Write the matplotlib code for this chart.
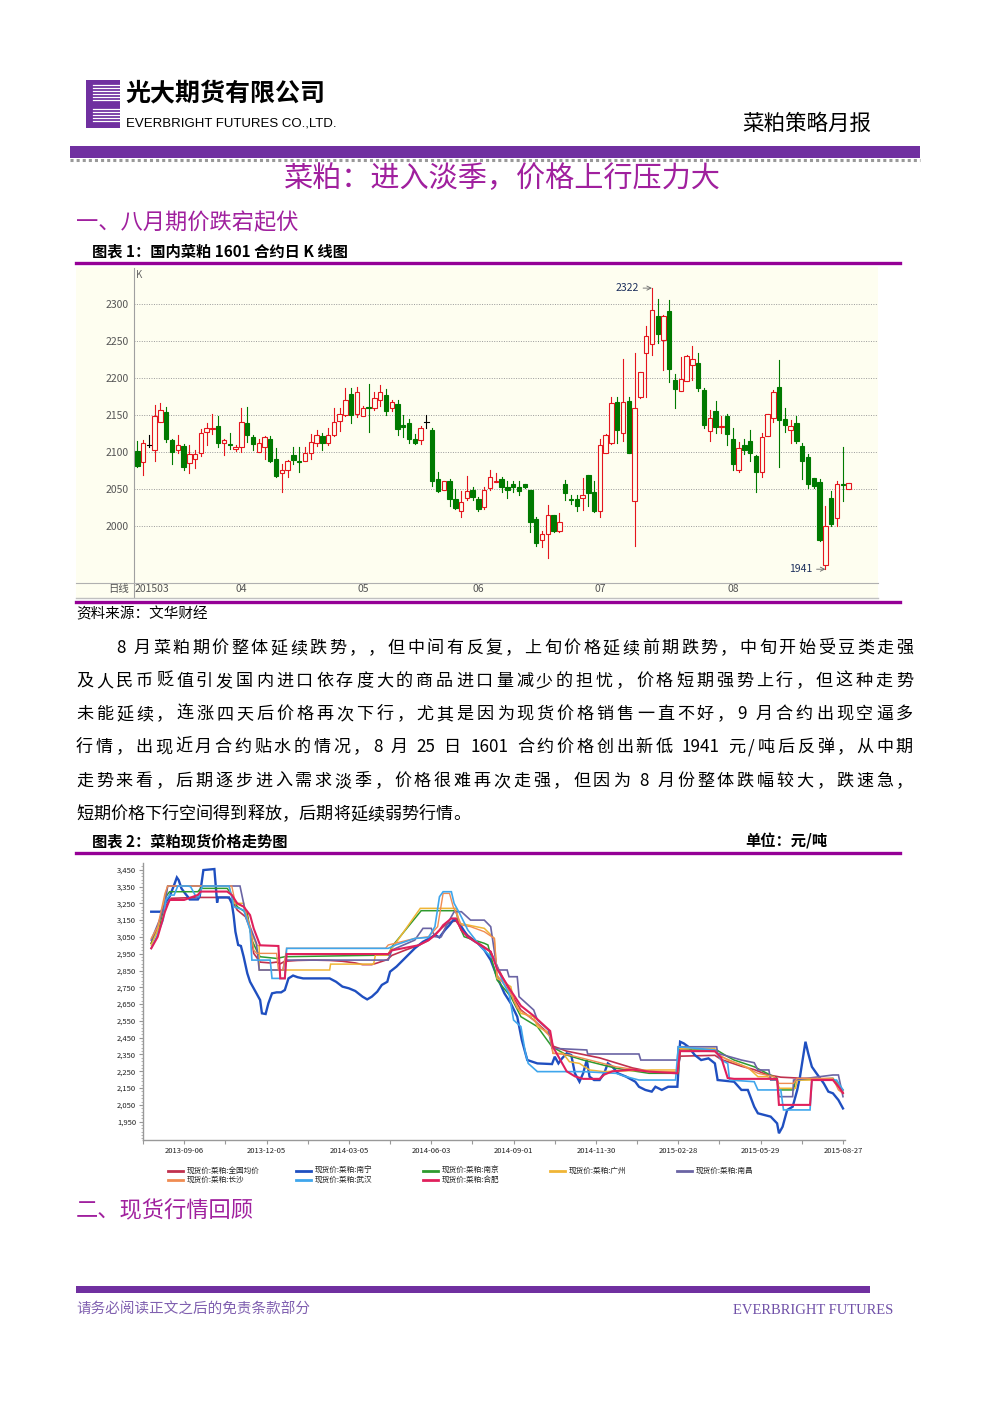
import re
import numpy as np
import pandas as pd
import matplotlib
matplotlib.use('Agg')
import matplotlib.pyplot as plt
import matplotlib.transforms as mtransforms
from matplotlib.lines import Line2D
from matplotlib.patches import Rectangle

plt.rcParams['font.family'] = ['Noto Sans CJK SC', 'DejaVu Sans']

# ---------------- data: chart 1, daily K line of RM1601 (Mar-Aug 2015) ----------------
k_open = [2101, 2086, 2109, 2103, 2141, 2154, 2116, 2103, 2108, 2085, 2090, 2098, 2127, 2131, 2135, 2112,
          2111, 2104, 2107, 2139, 2120, 2100, 2107, 2118, 2090, 2071, 2076, 2096, 2088, 2087, 2099, 2112,
          2122, 2112, 2123, 2142, 2150, 2178, 2152, 2149, 2161, 2160, 2171, 2177, 2159, 2165, 2136, 2139,
          2117, 2116, 2140, 2130, 2063, 2048, 2061, 2036, 2020, 2037, 2048, 2036, 2025, 2051, 2059, 2063,
          2053, 2057, 2052, 2056, 2048, 2009, 1981, 1989, 2014, 1993, 2056, 2036, 2036, 2038, 2069, 2046,
          2020, 2099, 2112, 2167, 2125, 2169, 2033, 2175, 2234, 2246, 2284, 2252, 2291, 2197, 2183, 2196,
          2218, 2221, 2184, 2128, 2155, 2134, 2148, 2118, 2075, 2109, 2115, 2094, 2073, 2121, 2146, 2188,
          2144, 2130, 2139, 2108, 2093, 2064, 2059, 1947, 2038, 2010, 2057, 2050]
k_high = [2115, 2116, 2123, 2164, 2166, 2161, 2118, 2123, 2111, 2109, 2103, 2131, 2139, 2152, 2148, 2118,
          2125, 2110, 2160, 2161, 2123, 2118, 2121, 2122, 2105, 2084, 2089, 2107, 2106, 2106, 2124, 2130,
          2125, 2132, 2159, 2160, 2186, 2186, 2188, 2162, 2192, 2181, 2190, 2185, 2170, 2171, 2150, 2144,
          2124, 2135, 2150, 2132, 2073, 2060, 2063, 2050, 2047, 2067, 2052, 2039, 2053, 2075, 2072, 2066,
          2060, 2061, 2060, 2057, 2049, 2012, 1993, 2028, 2015, 2017, 2062, 2042, 2042, 2064, 2069, 2060,
          2118, 2124, 2175, 2174, 2226, 2174, 2234, 2208, 2271, 2322, 2307, 2286, 2306, 2206, 2228, 2232,
          2244, 2234, 2186, 2157, 2169, 2148, 2152, 2132, 2114, 2117, 2129, 2096, 2125, 2152, 2184, 2225,
          2159, 2143, 2149, 2112, 2097, 2064, 2063, 2027, 2047, 2061, 2106, 2058]
k_low = [2080, 2068, 2106, 2087, 2141, 2114, 2083, 2099, 2075, 2071, 2078, 2094, 2109, 2124, 2107, 2096,
         2104, 2101, 2100, 2113, 2103, 2100, 2090, 2086, 2066, 2045, 2066, 2083, 2073, 2087, 2090, 2108,
         2103, 2109, 2122, 2128, 2149, 2139, 2147, 2149, 2127, 2157, 2162, 2150, 2156, 2123, 2120, 2112,
         2111, 2111, 2133, 2054, 2045, 2048, 2027, 2023, 2012, 2035, 2035, 2020, 2023, 2048, 2059, 2045,
         2038, 2046, 2041, 2051, 1992, 1972, 1971, 1956, 1992, 1992, 2035, 2030, 2020, 2021, 2026, 2018,
         2012, 2099, 2111, 2112, 2115, 2098, 1972, 2173, 2175, 2231, 2247, 2211, 2195, 2160, 2182, 2196,
         2197, 2182, 2133, 2115, 2125, 2125, 2109, 2076, 2073, 2097, 2087, 2046, 2066, 2121, 2141, 2080,
         2127, 2112, 2112, 2063, 2051, 2051, 1979, 1941, 1999, 1999, 2034, 2050]
k_close = [2081, 2112, 2109, 2148, 2157, 2118, 2100, 2110, 2079, 2097, 2097, 2125, 2133, 2133, 2112, 2116,
           2110, 2107, 2140, 2123, 2111, 2112, 2120, 2087, 2067, 2076, 2087, 2089, 2086, 2099, 2114, 2123,
           2112, 2123, 2140, 2152, 2170, 2150, 2181, 2160, 2159, 2173, 2181, 2156, 2168, 2131, 2134, 2117,
           2112, 2133, 2140, 2060, 2047, 2060, 2036, 2024, 2032, 2047, 2039, 2023, 2048, 2066, 2061, 2052,
           2049, 2052, 2047, 2052, 2005, 1977, 1989, 2014, 1993, 2005, 2044, 2035, 2026, 2042, 2044, 2020,
           2110, 2123, 2166, 2130, 2168, 2098, 2160, 2208, 2257, 2292, 2260, 2284, 2213, 2185, 2199, 2230,
           2226, 2187, 2136, 2146, 2134, 2135, 2124, 2084, 2105, 2103, 2099, 2073, 2120, 2151, 2181, 2143,
           2136, 2135, 2115, 2087, 2057, 2054, 1980, 2000, 2002, 2057, 2055, 2058]
k_yticks = [2000, 2050, 2100, 2150, 2200, 2250, 2300]
month_labels = ['04', '05', '06', '07', '08']
month_first_idx = [18, 39, 59, 80, 103]
k_max_idx, k_min_idx = 89, 119

# ---------------- data: chart 2, spot prices (day offset from 2013-09-06, yuan/t) ----------------
base_date = '2013-09-06'
quanguo = [(-36, 3012), (-29, 3111), (-21, 3230), (-14, 3280), (15, 3285), (47, 3285), (52, 3270), (58, 3210),
           (67, 3170), (72, 3101), (76, 2952), (83, 2900), (94, 2895), (101, 2900), (105, 2890), (110, 2905),
           (124, 2910), (141, 2912), (159, 2910), (173, 2905), (187, 2895), (195, 2885), (205, 2885), (211, 2895),
           (222, 2915), (227, 2940), (241, 2970), (256, 3000), (267, 3030), (277, 3080), (285, 3120), (292, 3140),
           (297, 3145), (303, 3100), (310, 3060), (317, 3030), (328, 2990), (335, 2962), (344, 2853), (357, 2714),
           (368, 2615), (382, 2555), (400, 2466), (403, 2400), (418, 2370), (436, 2350), (454, 2330), (472, 2300),
           (490, 2270), (508, 2250), (539, 2245), (542, 2340), (580, 2345), (587, 2320), (609, 2280), (623, 2260),
           (637, 2230), (652, 2215), (688, 2205), (709, 2200), (720, 2125)]
nanning = [(-36, 3200), (-25, 3200), (-21, 3250), (-16, 3289), (-11, 3359), (-8, 3404), (-6, 3388), (-3, 3339),
           (1, 3309), (4, 3289), (6, 3273), (15, 3273), (17, 3293), (21, 3448), (33, 3454), (34, 3388), (36, 3254),
           (37, 3285), (49, 3285), (52, 3250), (54, 3180), (56, 3081), (59, 3002), (62, 2996), (65, 2932),
           (69, 2833), (72, 2783), (76, 2744), (79, 2714), (83, 2674), (85, 2595), (89, 2591), (92, 2654),
           (96, 2714), (101, 2720), (106, 2720), (110, 2734), (114, 2803), (119, 2820), (124, 2810), (130, 2803),
           (159, 2803), (166, 2783), (173, 2754), (180, 2744), (187, 2728), (195, 2694), (200, 2678), (205, 2694),
           (211, 2724), (216, 2764), (222, 2783), (225, 2843), (232, 2873), (241, 2922), (252, 2982), (261, 3021),
           (268, 3041), (274, 3061), (279, 3047), (285, 3091), (290, 3121), (294, 3150), (299, 3150), (303, 3111),
           (310, 3051), (321, 3012), (328, 2972), (335, 2912), (342, 2813), (350, 2714), (357, 2654), (364, 2575),
           (369, 2436), (375, 2317), (386, 2297), (402, 2293), (405, 2337), (409, 2297), (413, 2327), (418, 2357),
           (423, 2347), (427, 2238), (432, 2188), (436, 2238), (440, 2317), (443, 2218), (448, 2198), (454, 2198),
           (459, 2238), (463, 2297), (468, 2277), (474, 2238), (483, 2218), (493, 2188), (497, 2158), (504, 2139),
           (511, 2129), (515, 2158), (522, 2139), (529, 2158), (539, 2158), (542, 2426), (546, 2416), (551, 2396),
           (558, 2347), (565, 2317), (573, 2327), (580, 2297), (583, 2198), (601, 2188), (609, 2139), (616, 2139),
           (623, 2039), (627, 2000), (641, 1980), (648, 1940), (650, 1881), (654, 1920), (659, 2020), (665, 2039),
           (670, 2139), (673, 2218), (679, 2426), (682, 2357), (686, 2277), (691, 2238), (699, 2178), (704, 2129),
           (709, 2119), (715, 2079), (720, 2029)]
nanjing = [(-36, 3012), (-27, 3111), (-20, 3289), (-16, 3319), (15, 3319), (18, 3339), (47, 3339), (51, 3309),
           (58, 3230), (69, 3190), (74, 3031), (79, 2972), (83, 2932), (101, 2922), (110, 2932), (223, 2942),
           (227, 2992), (259, 3206), (297, 3206), (301, 3111), (306, 3051), (317, 3031), (328, 3012), (332, 3002),
           (342, 2793), (357, 2694), (368, 2575), (386, 2516), (402, 2396), (418, 2347), (436, 2317), (472, 2268),
           (508, 2238), (540, 2238), (542, 2377), (582, 2377), (594, 2337), (601, 2317), (623, 2277), (637, 2238),
           (648, 2208), (650, 2139), (666, 2139), (668, 2198), (709, 2208), (720, 2139)]
guangzhou = [(-36, 3002), (-29, 3091), (-20, 3309), (-18, 3353), (49, 3353), (54, 3250), (65, 3250), (72, 3091),
             (79, 3002), (82, 2996), (82, 2853), (159, 2853), (160, 2888), (207, 2888), (209, 2942), (222, 2942),
             (258, 3220), (297, 3220), (301, 3131), (328, 3101), (339, 3041), (342, 2803), (357, 2754), (360, 2674),
             (368, 2595), (382, 2575), (386, 2516), (400, 2476), (403, 2357), (414, 2357), (421, 2307), (432, 2297),
             (443, 2258), (458, 2248), (511, 2258), (539, 2258), (540, 2386), (580, 2386), (582, 2357), (594, 2317),
             (616, 2273), (627, 2218), (637, 2218), (648, 2198), (650, 2149), (668, 2149), (670, 2198), (709, 2198),
             (720, 2139)]
nanchang = [(-36, 3031), (-27, 3150), (-21, 3250), (-18, 3353), (61, 3353), (65, 3250), (67, 3190), (72, 3111),
            (79, 3012), (82, 2853), (108, 2853), (110, 2912), (223, 2912), (227, 2972), (252, 3031), (261, 3101),
            (270, 3101), (274, 3051), (281, 3051), (285, 3101), (295, 3200), (303, 3200), (313, 3150), (328, 3150),
            (335, 3111), (342, 2853), (353, 2853), (355, 2813), (364, 2813), (366, 2694), (382, 2615), (386, 2555),
            (398, 2496), (402, 2387), (440, 2377), (441, 2353), (497, 2353), (499, 2317), (539, 2317), (540, 2396),
            (582, 2396), (583, 2357), (609, 2317), (623, 2301), (627, 2258), (639, 2258), (641, 2198), (648, 2198),
            (650, 2099), (665, 2099), (666, 2198), (709, 2228), (715, 2228), (720, 2099)]
changsha = [(-36, 3041), (-29, 3111), (-21, 3309), (-18, 3353), (52, 3353), (56, 3250), (65, 3230), (72, 3111),
            (76, 2972), (79, 2952), (101, 2952), (103, 2853), (108, 2853), (112, 2982), (220, 2982), (223, 3002),
            (252, 3041), (267, 3051), (277, 3111), (283, 3309), (290, 3309), (294, 3230), (303, 3121), (313, 3111),
            (328, 3081), (339, 3041), (342, 2823), (357, 2714), (364, 2625), (382, 2555), (400, 2456), (403, 2357),
            (421, 2347), (436, 2327), (472, 2277), (508, 2248), (540, 2248), (542, 2377), (580, 2367), (587, 2337),
            (609, 2287), (627, 2238), (645, 2218), (650, 2178), (666, 2178), (670, 2208), (709, 2208), (715, 2139),
            (720, 2119)]
wuhan = [(-36, 2982), (-30, 3051), (-23, 3150), (-20, 3269), (-16, 3299), (-11, 3299), (-7, 3353), (4, 3353),
         (7, 3349), (13, 3289), (16, 3289), (20, 3353), (49, 3353), (52, 3289), (54, 3230), (65, 3210), (72, 3091),
         (74, 2912), (94, 2912), (96, 2803), (110, 2803), (112, 2982), (223, 2982), (231, 3002), (252, 3041),
         (267, 3047), (274, 3111), (279, 3289), (283, 3319), (292, 3319), (295, 3250), (301, 3190), (310, 3091),
         (324, 2992), (339, 2912), (349, 2773), (355, 2714), (360, 2555), (368, 2516), (373, 2357), (376, 2297),
         (386, 2248), (436, 2248), (472, 2238), (483, 2218), (497, 2198), (537, 2198), (540, 2396), (580, 2377),
         (587, 2317), (594, 2297), (596, 2198), (623, 2188), (627, 2139), (652, 2139), (655, 2020), (684, 2020),
         (686, 2198), (713, 2198), (720, 2139)]
hefei = [(-36, 2982), (-29, 3050), (-21, 3200), (-16, 3270), (0, 3270), (15, 3300), (18, 3320), (47, 3320),
         (52, 3300), (58, 3250), (65, 3230), (72, 3180), (76, 3100), (83, 3000), (103, 2996), (105, 2803),
         (110, 2803), (112, 2948), (223, 2948), (227, 2970), (256, 3000), (267, 3030), (274, 3060), (279, 3090),
         (283, 3120), (292, 3160), (297, 3160), (303, 3090), (310, 3050), (324, 3000), (335, 2962), (342, 2860),
         (357, 2730), (368, 2640), (382, 2580), (400, 2490), (403, 2396), (418, 2250), (427, 2220), (436, 2205),
         (454, 2205), (459, 2230), (468, 2250), (490, 2260), (508, 2248), (539, 2238), (542, 2370), (580, 2370),
         (587, 2330), (594, 2210), (601, 2205), (648, 2205), (650, 2050), (684, 2050), (686, 2198), (709, 2198),
         (715, 2160), (720, 2120)]
spot_names = ['现货价:菜粕:全国均价', '现货价:菜粕:南宁', '现货价:菜粕:南京', '现货价:菜粕:广州',
              '现货价:菜粕:南昌', '现货价:菜粕:长沙', '现货价:菜粕:武汉', '现货价:菜粕:合肥']
spot_series = [quanguo, nanning, nanjing, guangzhou, nanchang, changsha, wuhan, hefei]
spot_colors = ['#C0304E', '#1F4FC0', '#2E9A2E', '#F0B536', '#6A64A4', '#F08C52', '#3FA6EC', '#E0205C']
spot_widths = [1.2, 1.7, 1.1, 1.1, 1.2, 1.0, 1.2, 1.5]
spot_yticks = list(range(1950, 3451, 100))

body_lines = [
    '8 月菜粕期价整体延续跌势，，但中间有反复，上旬价格延续前期跌势，中旬开始受豆类走强',
    '及人民币贬值引发国内进口依存度大的商品进口量减少的担忧，价格短期强势上行，但这种走势',
    '未能延续，连涨四天后价格再次下行，尤其是因为现货价格销售一直不好，9 月合约出现空逼多',
    '行情，出现近月合约贴水的情况，8 月 25 日 1601 合约价格创出新低 1941 元/吨后反弹，从中期',
    '走势来看，后期逐步进入需求淡季，价格很难再次走强，但因为 8 月份整体跌幅较大，跌速急，',
    '短期价格下行空间得到释放，后期将延续弱势行情。',
]

# ---------------- page ----------------
W, H = 992, 1403
fig = plt.figure(figsize=(W / 100, H / 100), dpi=100)
PURPLE = '#7030A0'
MAGENTA = '#A0209E'
RULE = '#950096'


def fx(x):
    return x / W


def fy(y):
    return 1 - y / H


def ftext(x, y, s, **kw):
    kw.setdefault('va', 'center')
    return fig.text(fx(x), fy(y), s, **kw)


def hline(x0, x1, y, **kw):
    fig.add_artist(Line2D([fx(x0), fx(x1)], [fy(y), fy(y)], **kw))


def rect(x0, y0, x1, y1, **kw):
    fig.add_artist(Rectangle((fx(x0), fy(y1)), (x1 - x0) / W, (y1 - y0) / H,
                             transform=fig.transFigure, **kw))


def box(x0, y0, x1, y1):
    return [fx(x0), fy(y1), (x1 - x0) / W, (y1 - y0) / H]


renderer = fig.canvas.get_renderer()


def put_line(text, x0, x1, y, size, justify=True):
    toks = re.findall(r'[0-9A-Za-z/]+| |.', text)
    arts, widths = [], []
    for t in toks:
        if t == ' ':
            arts.append(None)
            widths.append(size * 0.28)
            continue
        a = fig.text(0, fy(y), t, fontsize=size, va='center', ha='left')
        arts.append(a)
        widths.append(a.get_window_extent(renderer=renderer).width)
    gap = (x1 - x0 - sum(widths)) / (len(toks) - 1) if justify else 0
    x = x0
    for a, w in zip(arts, widths):
        if a is not None:
            a.set_x(fx(x))
        x += w + gap


# header logo
rect(86, 80, 120, 128, facecolor=PURPLE, edgecolor='none')
for yy in range(85, 124, 3):
    if 101 <= yy <= 106:
        continue
    hline(93, 120, yy, color='white', lw=0.9)
ftext(125, 94, '光大期货有限公司', fontsize=18, fontweight='bold')
ftext(126, 123, 'EVERBRIGHT FUTURES CO.,LTD.', fontsize=9.5, family='Liberation Sans')
ftext(742, 124, '菜粕策略月报', fontsize=15.5)
rect(70, 146, 920, 158, facecolor=PURPLE, edgecolor='none')
hline(70, 920, 160, color='#999999', lw=2.2, linestyle=(0, (1, 1)))
ftext(502, 179, '菜粕：进入淡季，价格上行压力大', fontsize=21, color=MAGENTA, ha='center')
ftext(76, 223, '一、八月期价跌宕起伏', fontsize=16, color=MAGENTA)
ftext(92, 251, '图表 1：国内菜粕 1601 合约日 K 线图', fontsize=11, fontweight='bold')
hline(76, 900, 263, color=RULE, lw=2.4)

# ---------------- chart 1 ----------------
rect(76, 267, 878, 598, facecolor='#FEFEF0', edgecolor='none', zorder=-10)
fig.add_artist(Line2D([fx(134.3), fx(134.3)], [fy(268), fy(597)], color='#a0a0a0', lw=0.8, zorder=-5))
hline(76, 878, 582.7, color='#b0b0b0', lw=0.8, zorder=-5)
hline(76, 878, 597.7, color='#c0c0c0', lw=1.0, zorder=-5)
ax1 = fig.add_axes(box(134.3, 267, 878, 582.7))
ax1.set_facecolor('none')
ax1.set_xlim(-0.52, 128.1)
ax1.set_ylim(1922.7, 2350.6)
for s in ax1.spines.values():
    s.set_visible(False)
ax1.set_xticks([])
ax1.set_yticks(k_yticks)
ax1.tick_params(axis='y', length=0, pad=4, labelsize=7.5, labelcolor='#555555')
ax1.grid(axis='y', color='#9a9a9a', lw=0.7, linestyle=(0, (1, 1.5)))
ax1.set_axisbelow(True)
for i, (o, h, l, c) in enumerate(zip(k_open, k_high, k_low, k_close)):
    if c > o:
        col, face = '#E5161E', '#FEFEF0'
    elif c < o:
        col, face = '#007A00', '#007A00'
    else:
        col, face = '#000000', None
    ax1.plot([i, i], [l, h], color=col, lw=0.8, zorder=2)
    if face is None:
        ax1.plot([i - 0.4, i + 0.4], [o, o], color=col, lw=0.8, zorder=3)
    else:
        ax1.add_patch(Rectangle((i - 0.38, min(o, c)), 0.76, max(abs(c - o), 0.8),
                                facecolor=face, edgecolor=col, lw=0.8, zorder=3))
for idx in (k_max_idx, k_min_idx):
    val = k_high[idx] if idx == k_max_idx else k_low[idx]
    ax1.annotate(str(val), xy=(idx, val), xytext=(-13, 0), textcoords='offset pixels',
                 ha='right', va='center', fontsize=7.5, color='#1C2F5C',
                 arrowprops=dict(arrowstyle='->', color='#666666', lw=0.6, shrinkA=1, shrinkB=0))
lab_tr = mtransforms.blended_transform_factory(ax1.transData, fig.transFigure)
ax1.text(-0.5, fy(589.5), '201503', transform=lab_tr, ha='left', va='center', fontsize=7.5, color='#555555')
for lab, idx in zip(month_labels, month_first_idx):
    ax1.text(idx, fy(589.5), lab, transform=lab_tr, ha='center', va='center', fontsize=7.5, color='#555555')
ftext(129, 589.5, '日线', ha='right', fontsize=7.5, color='#555555')
ftext(136, 275, 'K', fontsize=7, color='#666666')
hline(76, 900, 602, color=RULE, lw=2.4)
ftext(76, 614, '资料来源：文华财经', fontsize=10.5)

# ---------------- body text ----------------
line_y = [648, 681, 714, 747, 781, 814]
for n, (txt, yy) in enumerate(zip(body_lines, line_y)):
    x0 = 116 if n == 0 else 76
    put_line(txt, x0, 913, yy, 12.3, justify=(n < len(body_lines) - 1))

# ---------------- chart 2 ----------------
ftext(92, 841, '图表 2：菜粕现货价格走势图', fontsize=11, fontweight='bold')
ftext(745, 841, '单位：元/吨', fontsize=11, fontweight='bold')
hline(76, 900, 853, color=RULE, lw=2.4)

ax2 = fig.add_axes(box(143, 863, 845, 1140))
for pts, col, lw in zip(spot_series, spot_colors, spot_widths):
    d, v = zip(*pts)
    ax2.plot(d, v, color=col, lw=lw, solid_joinstyle='miter')
ax2.set_xlim(-36.2, 722.2)
ax2.set_ylim(1841, 3490)
for side in ('top', 'right'):
    ax2.spines[side].set_visible(False)
for side in ('left', 'bottom'):
    ax2.spines[side].set_color('#999999')
    ax2.spines[side].set_linewidth(1.0)
ax2.set_yticks(spot_yticks)
ax2.set_yticklabels([f'{v:,}' for v in spot_yticks])
ax2.set_yticks(np.arange(1850, 3490, 20), minor=True)
major_days = np.arange(0, 721, 90)
ax2.set_xticks(major_days)
ax2.set_xticklabels([(pd.Timestamp(base_date) + pd.Timedelta(days=int(t))).strftime('%Y-%m-%d')
                     for t in major_days])
ax2.set_xticks(np.arange(-45, 721, 45), minor=True)
ax2.tick_params(axis='both', which='major', labelsize=5.5, labelcolor='#222222', color='#999999',
                length=3, width=0.8, pad=2)
ax2.tick_params(axis='y', which='minor', length=1.5, width=0.6, color='#aaaaaa')
ax2.tick_params(axis='x', which='minor', length=3, width=0.8, color='#999999')

leg_cols = [168, 296, 423, 550, 677]
for n, (name, col) in enumerate(zip(spot_names, spot_colors)):
    row, cidx = (0, n) if n < 5 else (1, n - 5)
    xx = leg_cols[cidx]
    yy = 1171 + row * 9
    hline(xx, xx + 15, yy, color=col, lw=2.0)
    ftext(xx + 19, yy, name, fontsize=5.5, color='#222222')

# ---------------- section 2 + footer ----------------
ftext(76, 1211, '二、现货行情回顾', fontsize=16, color=MAGENTA)
rect(76, 1286, 870, 1293, facecolor=PURPLE, edgecolor='none')
ftext(76, 1310, '请务必阅读正文之后的免责条款部分', fontsize=10.5, color='#8060B0')
ftext(893, 1310, 'EVERBRIGHT FUTURES', fontsize=10.5, color='#7050A8', ha='right',
      family='Liberation Serif')

fig.savefig('out.png', dpi=100)
